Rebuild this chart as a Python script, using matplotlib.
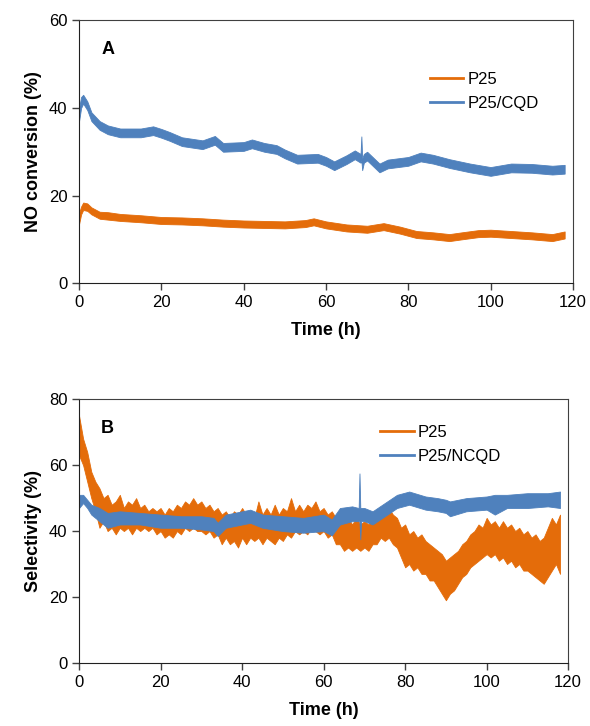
import matplotlib

matplotlib.use('Agg')
import matplotlib.pyplot as plt
from matplotlib.lines import Line2D

plt.rcParams['font.family'] = ['Liberation Sans', 'DejaVu Sans']

ORANGE = '#E46C0A'
BLUE = '#4F81BD'

# Panel A: NO conversion (%), noisy traces given as lower/upper envelope
a_p25_t = [0, 0.5, 1, 2, 3, 5, 7, 10, 15, 20, 25, 30, 35, 40, 45, 50, 55, 57, 60, 65, 70, 74, 78, 82,
           86, 90, 93, 97, 100, 105, 110, 115, 118]
a_p25_lo = [13.5, 15.7, 16.7, 16.5, 15.7, 14.7, 14.5, 14.2, 13.9, 13.5, 13.4, 13.2, 12.9, 12.7, 12.6, 12.5,
            12.8, 13.2, 12.5, 11.8, 11.5, 12.1, 11.3, 10.3, 10.0, 9.6, 10.0, 10.5, 10.6, 10.3, 10.0, 9.6, 10.2]
a_p25_hi = [16.0, 17.5, 18.4, 18.2, 17.3, 16.3, 16.2, 15.8, 15.5, 15.1, 15.0, 14.8, 14.5, 14.3, 14.2, 14.1,
            14.4, 14.8, 14.1, 13.4, 13.1, 13.7, 12.9, 11.9, 11.6, 11.2, 11.6, 12.1, 12.2, 11.9, 11.6, 11.2, 11.8]

a_cqd_t = [0, 0.5, 1, 2, 3, 5, 7, 10, 15, 18, 20, 22, 25, 30, 33, 35, 40, 42, 45, 48, 50, 53, 58, 60,
           62, 65, 67, 68.4, 68.6, 68.8, 69.2, 70, 73, 75, 80, 83, 86, 90, 95, 100, 105, 110, 115, 118]
a_cqd_lo = [37.0, 40.0, 41.0, 39.5, 37.0, 35.0, 34.0, 33.3, 33.3, 33.8, 33.2, 32.5, 31.3, 30.6, 31.6, 30.0,
            30.2, 30.8, 30.0, 29.5, 28.5, 27.3, 27.5, 26.8, 25.8, 27.2, 28.3, 27.5, 28.0, 25.8, 27.5, 28.0,
            25.3, 26.2, 26.8, 27.8, 27.3, 26.3, 25.3, 24.5, 25.3, 25.2, 24.8, 25.0]
a_cqd_hi = [40.0, 42.5, 43.0, 41.5, 39.0, 37.0, 36.0, 35.3, 35.3, 35.8, 35.2, 34.5, 33.3, 32.6, 33.6, 32.0,
            32.2, 32.8, 32.0, 31.5, 30.5, 29.3, 29.5, 28.8, 27.8, 29.2, 30.3, 29.5, 33.5, 28.5, 29.5, 30.0,
            27.3, 28.2, 28.8, 29.8, 29.3, 28.3, 27.3, 26.5, 27.3, 27.2, 26.8, 27.0]

# Panel B: selectivity (%), P25 read hour by hour (0 .. 118 h)
b_p25_t = list(range(0, 119))
b_p25_lo = [63, 60, 55, 50, 46, 41, 43, 40, 41, 39, 41, 40, 41, 39, 41, 40, 41, 40, 41, 39,
            40, 38, 39, 38, 40, 39, 41, 40, 41, 40, 40, 39, 40, 38, 39, 36, 38, 36, 37, 35,
            38, 36, 38, 37, 38, 36, 38, 37, 36, 38, 37, 39, 38, 40, 39, 40, 39, 41, 40, 39,
            40, 38, 39, 36, 36, 34, 35, 34, 35, 34, 35, 34, 36, 36, 38, 37, 38, 36, 35, 32,
            29, 30, 28, 29, 27, 27, 25, 25, 23, 21, 19, 21, 22, 24, 26, 27, 29, 30, 31, 32,
            33, 32, 33, 31, 32, 30, 31, 29, 30, 28, 28, 27, 26, 25, 24, 26, 28, 30, 27]
b_p25_hi = [75, 68, 64, 58, 55, 53, 50, 51, 48, 49, 51, 47, 49, 48, 50, 47, 48, 46, 47, 46,
            47, 45, 47, 46, 48, 47, 49, 48, 50, 48, 49, 47, 48, 46, 47, 45, 46, 44, 46, 45,
            47, 45, 46, 44, 49, 45, 47, 45, 48, 45, 47, 46, 50, 46, 48, 46, 48, 47, 49, 46,
            47, 45, 46, 44, 45, 43, 44, 42, 44, 42, 43, 42, 44, 45, 46, 45, 47, 45, 44, 41,
            42, 39, 40, 38, 39, 37, 36, 35, 34, 33, 31, 32, 33, 34, 36, 37, 39, 40, 42, 41,
            44, 42, 43, 41, 43, 41, 42, 40, 41, 39, 40, 38, 39, 37, 38, 41, 44, 42, 45]

b_ncqd_t = [0, 1, 2, 3, 5, 7, 10, 15, 20, 25, 30, 33, 34, 36, 40, 42, 45, 50, 55, 60, 62, 64, 67, 68.6,
            68.8, 69.0, 69.2, 70, 72, 75, 78, 81, 85, 88, 90, 91, 95, 100, 102, 105, 110, 115, 118]
b_ncqd_lo = [47, 48.5, 47, 45, 43, 41, 42, 42, 41, 41, 40.5, 40, 38.5, 41, 42, 42.5, 41, 40, 39.5, 40,
             38.7, 42, 43, 43, 43, 37.5, 43, 43, 42, 44.5, 47, 48, 46.5, 46, 45.5, 44.5, 46, 46.5, 45,
             47, 47, 47.5, 47]
b_ncqd_hi = [51, 51, 49.5, 48, 47, 45.5, 46, 45.5, 45, 44.5, 44.5, 44, 42.5, 45, 46, 46.5, 45, 44.5, 44,
             45, 43.5, 47, 47.5, 47, 57.5, 47, 47, 47, 46, 48.5, 51, 52, 50.5, 50, 49.5, 49, 50, 50.5,
             51, 51, 51.5, 51.5, 52]

x_ticks = [0, 20, 40, 60, 80, 100, 120]


def style_axes(ax, ymax, ystep, ylabel):
    ax.set_xlim(0, 120)
    ax.set_ylim(0, ymax)
    ax.set_xticks(x_ticks)
    ax.set_yticks(range(0, ymax + 1, ystep))
    ax.tick_params(direction='out', length=5, width=1, labelsize=12, color='#404040')
    for side in ['left', 'bottom']:
        ax.spines[side].set_color('#202020')
    for side in ['top', 'right']:
        ax.spines[side].set_color('#404040')
    ax.set_xlabel('Time (h)', fontsize=13, fontweight='bold', labelpad=9)
    ax.set_ylabel(ylabel, fontsize=13, fontweight='bold', labelpad=5)


fig = plt.figure(figsize=(5.9, 7.26), dpi=100)
axA = fig.add_axes([0.134, 0.610, 0.837, 0.362])
axB = fig.add_axes([0.134, 0.087, 0.829, 0.363])

axA.fill_between(a_p25_t, a_p25_lo, a_p25_hi, color=ORANGE, linewidth=0.6)
axA.fill_between(a_cqd_t, a_cqd_lo, a_cqd_hi, color=BLUE, linewidth=0.6)
style_axes(axA, 60, 20, 'NO conversion (%)')
axA.text(0.045, 0.89, 'A', transform=axA.transAxes, fontsize=13, fontweight='bold', va='center')
handles = [Line2D([], [], color=ORANGE, lw=2), Line2D([], [], color=BLUE, lw=2)]
axA.legend(handles, ['P25', 'P25/CQD'], loc='upper left', bbox_to_anchor=(0.68, 0.86), frameon=False,
           fontsize=12, handlelength=2.0, handletextpad=0.25, labelspacing=0.55)

axB.fill_between(b_p25_t, b_p25_lo, b_p25_hi, color=ORANGE, linewidth=0.6)
axB.fill_between(b_ncqd_t, b_ncqd_lo, b_ncqd_hi, color=BLUE, linewidth=0.6)
style_axes(axB, 80, 20, 'Selectivity (%)')
axB.text(0.045, 0.89, 'B', transform=axB.transAxes, fontsize=13, fontweight='bold', va='center')
handles = [Line2D([], [], color=ORANGE, lw=2), Line2D([], [], color=BLUE, lw=2)]
axB.legend(handles, ['P25', 'P25/NCQD'], loc='upper left', bbox_to_anchor=(0.585, 0.96), frameon=False,
           fontsize=12, handlelength=2.0, handletextpad=0.25, labelspacing=0.55)

fig.savefig('out.png', dpi=100)
